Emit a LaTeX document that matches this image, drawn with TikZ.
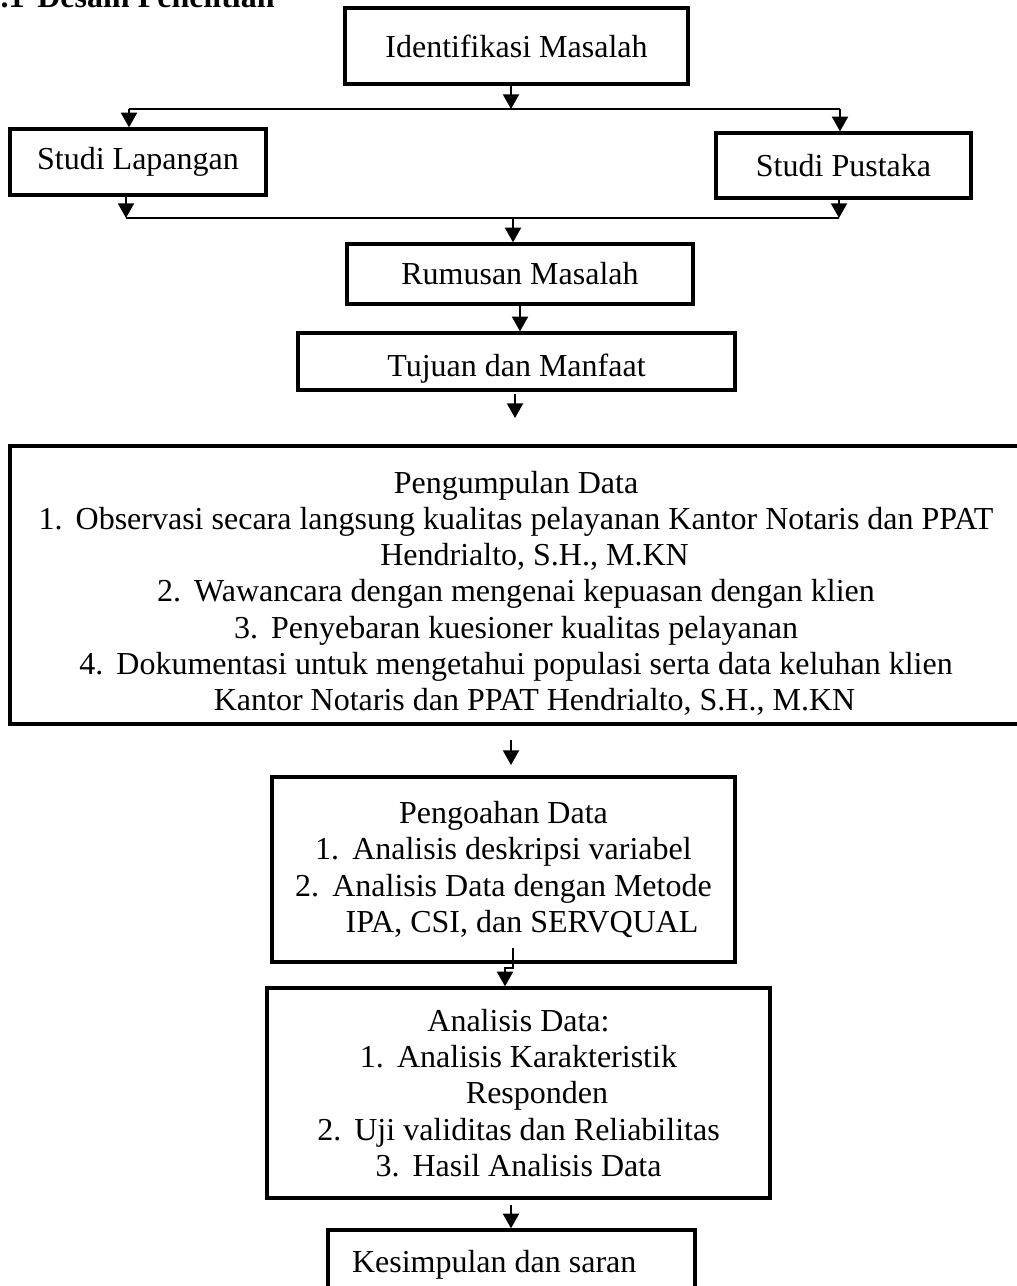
\documentclass[tikz,border=0pt]{standalone}
\usepackage{fontspec}
\setmainfont{Liberation Serif}
\usepackage{tikz}
\usetikzlibrary{arrows.meta,positioning,calc}
\newcommand{\nomor}[1]{\makebox[13.9pt][l]{#1}}

\begin{document}
\begin{tikzpicture}[x=0.375pt, y=-0.375pt,
    kotak/.style={draw, line width=1.25pt, inner sep=0pt, align=center,
      font=\fontsize{12}{13.6}\selectfont},
    panah/.style={line width=0.75pt, -{Triangle[length=5.5pt,width=6pt]}},
    garis/.style={line width=0.75pt}]
  \useasboundingbox (0,0) rectangle (1017,1286);
  % judul, terpotong di tepi atas
  \node[anchor=base west, inner sep=0pt, font=\fontsize{12}{13.6}\selectfont\bfseries]
    (judul) at (-16,7) {3.1\hspace{0.4em}Desain Penelitian};

  % kotak-kotak
  \node[kotak, minimum width=128.6pt, minimum height=28.5pt] (ident) at (516.5,46)
    {Identifikasi Masalah};
  \node[kotak, minimum width=96pt, minimum height=24.75pt] (lap) at (138,162)
    {Studi Lapangan};
  \node[kotak, minimum width=95.6pt, minimum height=24.4pt] (pus) at (843.5,165.5)
    {Studi Pustaka};
  \node[kotak, minimum width=129.75pt, minimum height=22.5pt] (rum) at (520,274)
    {Rumusan Masalah};
  \node[kotak, minimum width=163.9pt, minimum height=21.4pt] (tuj) at (516.5,361.5)
    {\rule{0pt}{13.5pt}Tujuan dan Manfaat};
  \node[kotak, minimum width=379.5pt, minimum height=104.25pt] (kumpul) at (516,585)
    {\rule{0pt}{14.5pt}Pengumpulan Data\\
     \nomor{1.}Observasi secara langsung kualitas pelayanan Kantor Notaris dan PPAT\\
     \nomor{}Hendrialto, S.H., M.KN\\
     \nomor{2.}Wawancara dengan mengenai kepuasan dengan klien\\
     \nomor{3.}Penyebaran kuesioner kualitas pelayanan\\
     \nomor{4.}Dokumentasi untuk mengetahui populasi serta data keluhan klien\\
     \nomor{}Kantor Notaris dan PPAT Hendrialto, S.H., M.KN};
  \node[kotak, minimum width=173.6pt, minimum height=69.4pt] (olah) at (503.5,869.5)
    {Pengoahan Data\\
     \nomor{1.}Analisis deskripsi variabel\\
     \nomor{2.}Analisis Data dengan Metode\\
     \nomor{}IPA, CSI, dan SERVQUAL};
  \node[kotak, minimum width=188.6pt, minimum height=78.75pt] (anal) at (518.5,1093)
    {Analisis Data:\\
     \nomor{1.}Analisis Karakteristik\\
     \nomor{}Responden\\
     \nomor{2.}Uji validitas dan Reliabilitas\\
     \nomor{3.}Hasil Analisis Data};
  \node[kotak, minimum width=137.6pt, minimum height=26.25pt, text width=119.6pt,
    inner xsep=9pt, align=flush left] (kes) at (511.5,1265)
    {Kesimpulan dan saran};

  % titik bantu
  \coordinate (atasKiri) at (129,109);
  \coordinate (atasTengah) at (511,109);
  \coordinate (atasKanan) at (840,109);
  \coordinate (bawahKiri) at (126,218);
  \coordinate (bawahTengah) at (513,218);
  \coordinate (bawahKanan) at (839,218);
  \coordinate (lepas1a) at (515,394);
  \coordinate (lepas1b) at (515,418);
  \coordinate (lepas2a) at (511,740);
  \coordinate (lepas2b) at (511,765);
  \coordinate (tekuk1) at (513,948);
  \coordinate (tekuk2) at (513,968);
  \coordinate (tekuk3) at (505,968);
  \coordinate (akhir) at (511,1205);

  % panah
  \draw[panah] (ident.south -| atasTengah) -- (atasTengah);
  \draw[garis] (atasKiri) -- (atasKanan);
  \draw[panah] (atasKiri) -- (atasKiri |- lap.north);
  \draw[panah] (atasKanan) -- (atasKanan |- pus.north);
  \draw[panah] (lap.south -| bawahKiri) -- (bawahKiri);
  \draw[panah] (pus.south -| bawahKanan) -- (bawahKanan);
  \draw[garis] (bawahKiri) -- (bawahKanan);
  \draw[panah] (bawahTengah) -- (bawahTengah |- rum.north);
  \draw[panah] (rum.south) -- (rum.south |- tuj.north);
  \draw[panah] (lepas1a) -- (lepas1b);
  \draw[panah] (lepas2a) -- (lepas2b);
  \draw[panah] (tekuk1) -- (tekuk2) -- (tekuk3) -- (tekuk3 |- anal.north);
  \draw[panah] (akhir) -- (akhir |- kes.north);
\end{tikzpicture}
\end{document}
